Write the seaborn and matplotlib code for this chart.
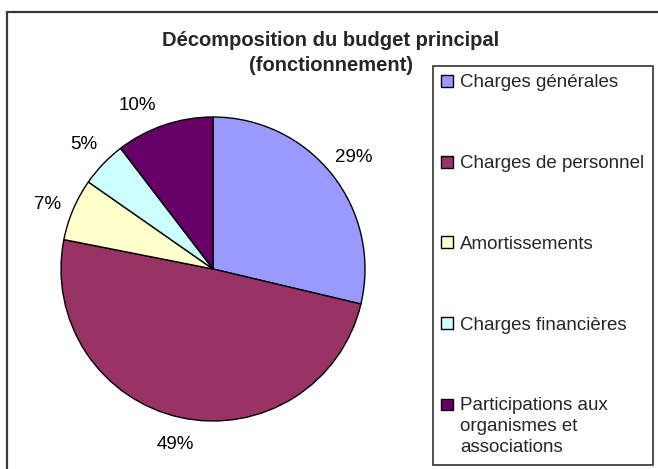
import matplotlib
matplotlib.use("Agg")
import matplotlib.pyplot as plt
import matplotlib.patches as mpatches
from matplotlib.legend_handler import HandlerPatch
import seaborn as sns

# Données du graphique
categories = ["Charges générales", "Charges de personnel", "Amortissements",
              "Charges financières", "Participations aux\norganismes et\nassociations"]
valeurs = [28.7, 49.4, 6.6, 4.9, 10.4]
couleurs = ["#9999FF", "#993366", "#FFFFCC", "#CCFFFF", "#660066"]
titre = "Décomposition du budget principal\n(fonctionnement)"

sns.set_style("white")
plt.rcParams['font.family'] = ['Liberation Sans', 'DejaVu Sans']


# Carré de légende aligné sur la première ligne du texte (comme Excel)
class HandlerHaut(HandlerPatch):
    def __init__(self, decalage, **kw):
        super().__init__(**kw)
        self.decalage = decalage

    def create_artists(self, legend, orig_handle, xdescent, ydescent, width, height, fontsize, trans):
        return super().create_artists(legend, orig_handle, xdescent, ydescent - self.decalage,
                                      width, height, fontsize, trans)


fig = plt.figure(figsize=(6.58, 4.69), dpi=100)

# Cadre extérieur du graphique (coupé à droite et en bas)
fig.patches.append(mpatches.Rectangle((7 / 658, -0.05), 1.2, 1 - 12 / 469 + 0.05,
                                      transform=fig.transFigure, fill=False,
                                      edgecolor="#3a3a3a", linewidth=1.6))

ax = fig.add_axes([61 / 658, 48 / 469, 304 / 658, 304 / 469])
wedges, textes, pcts = ax.pie(valeurs, colors=sns.color_palette(couleurs), startangle=90,
                              counterclock=False, autopct='%.0f%%', pctdistance=1.18,
                              wedgeprops=dict(edgecolor="black", linewidth=1),
                              textprops=dict(fontsize=13.5, color="black"))
ax.set_xlim(-1, 1)
ax.set_ylim(-1, 1)
ax.set_aspect("equal")

# Excel décale un peu certaines étiquettes
x10, y10 = pcts[4].get_position()
pcts[4].set_position((x10 - 0.12, y10 - 0.04))
x7, y7 = pcts[2].get_position()
pcts[2].set_position((x7, y7 - 0.04))

fig.text(331 / 658, 1 - 53 / 469, titre, ha="center", va="center", fontsize=14.5,
         fontweight="bold", linespacing=1.4)

leg = fig.legend(wedges, categories, loc="upper left",
                 bbox_to_anchor=(433 / 658, 1 - 66 / 469), bbox_transform=fig.transFigure,
                 frameon=True, fancybox=False, shadow=False, fontsize=13.5,
                 handlelength=0.6, handleheight=0.6, handletextpad=0.4,
                 labelspacing=3.4, borderpad=0.45, borderaxespad=0,
                 handler_map={wedges[4]: HandlerHaut(16)})
leg.get_frame().set_edgecolor("black")
leg.get_frame().set_linewidth(1.2)
for h in leg.legend_handles:
    h.set_edgecolor("black")
    h.set_linewidth(1)
for t in leg.get_texts():
    t.set_linespacing(1.3)

fig.savefig("out.png", dpi=100, facecolor="white")
